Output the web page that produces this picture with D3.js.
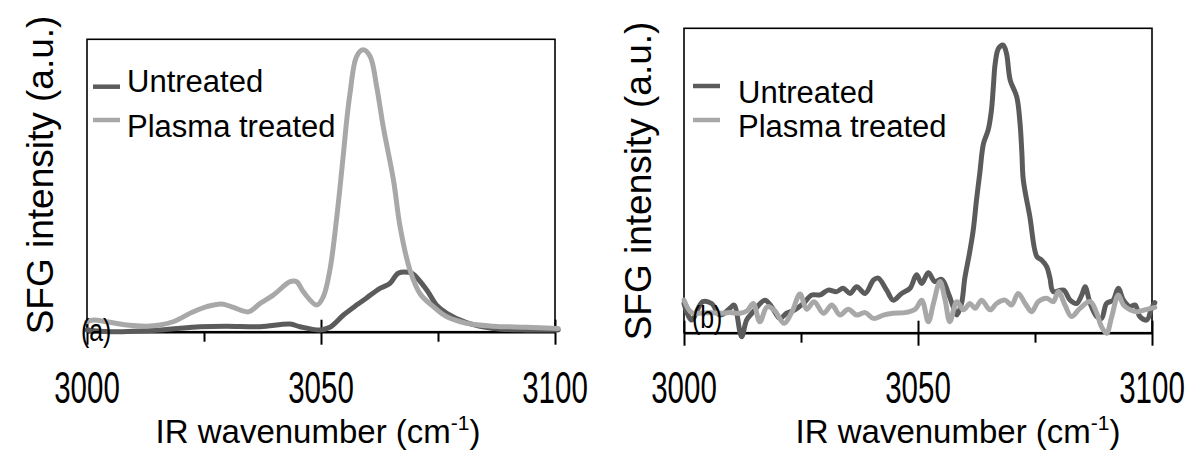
<!DOCTYPE html>
<html>
<head>
<meta charset="utf-8">
<script src="https://cdn.jsdelivr.net/npm/d3@7"></script>
<style>
  body { margin: 0; background: #fff; }
  text { font-family: 'Liberation Sans', Arial, sans-serif; fill: #000; }
</style>
</head>
<body>
<div id="chart"></div>
<script>
// series / tick data (intensity in a.u., 0-100 = axis to top of frame)
const seriesNames = ['Untreated', 'Plasma treated'];
const majorTicks = [3000, 3050, 3100];
const minorTicks = [3025, 3075];
const tickLabels = ['3000', '3050', '3100'];

// panel (a)
const aUntreatedWn = [3000.0, 3004.9, 3015.6, 3024.1, 3029.8, 3037.0, 3043.4, 3045.5, 3049.8, 3051.9, 3054.8, 3057.6, 3059.8, 3062.6, 3064.7, 3066.5, 3068.7, 3069.7, 3072.6, 3074.7, 3076.9, 3081.1, 3086.8, 3093.9, 3100.7];
const aUntreatedInt = [0.6, 0.0, 0.6, 1.7, 1.9, 1.7, 2.6, 1.7, 0.6, 1.5, 5.7, 9.1, 11.6, 14.8, 16.5, 20.0, 20.3, 19.7, 14.3, 9.1, 6.3, 3.1, 1.1, 0.6, 0.6];
const aPlasmaWn = [3000.0, 3001.4, 3004.2, 3008.5, 3012.7, 3015.6, 3018.4, 3022.7, 3025.6, 3028.8, 3031.3, 3034.5, 3037.0, 3039.8, 3043.4, 3044.8, 3046.2, 3049.1, 3050.5, 3051.9, 3053.3, 3054.8, 3055.5, 3056.2, 3057.6, 3059.0, 3060.5, 3061.9, 3063.3, 3065.5, 3066.9, 3069.0, 3071.2, 3074.0, 3076.9, 3081.1, 3086.8, 3093.9, 3100.7];
const aPlasmaInt = [3.4, 4.0, 3.4, 2.3, 1.9, 2.3, 3.4, 6.8, 8.6, 9.5, 8.3, 6.8, 9.7, 12.5, 17.1, 17.1, 13.7, 9.1, 12.0, 21.1, 38.2, 61.0, 72.4, 81.5, 94.1, 96.4, 94.1, 83.8, 70.1, 51.7, 35.9, 21.1, 12.9, 8.6, 5.1, 2.9, 1.9, 1.5, 1.1];

// panel (b)
const bUntreatedWn = [3000.0, 3001.6, 3004.0, 3005.9, 3007.7, 3009.8, 3010.7, 3012.3, 3013.4, 3014.8, 3017.3, 3018.7, 3020.5, 3021.9, 3023.7, 3025.5, 3027.3, 3029.1, 3030.8, 3032.6, 3034.0, 3035.5, 3036.9, 3038.7, 3040.5, 3041.5, 3043.3, 3044.7, 3046.5, 3048.3, 3049.7, 3050.8, 3052.2, 3053.6, 3055.1, 3056.5, 3057.5, 3058.3, 3059.3, 3060.0, 3061.0, 3061.8, 3062.5, 3063.2, 3064.0, 3065.0, 3065.7, 3066.1, 3066.5, 3067.2, 3068.2, 3068.9, 3069.7, 3071.1, 3071.8, 3072.2, 3072.5, 3073.9, 3075.4, 3076.4, 3077.5, 3078.2, 3078.9, 3081.1, 3082.5, 3083.9, 3085.0, 3085.7, 3086.8, 3088.2, 3089.2, 3090.3, 3091.7, 3092.8, 3093.9, 3095.3, 3096.4, 3097.4, 3098.9, 3099.9, 3100.6];
const bUntreatedInt = [9.6, 4.2, 10.2, 9.6, 5.8, 8.0, 9.1, -1.3, 4.2, 6.9, 10.7, 8.6, 4.7, 6.4, 7.5, 9.6, 12.4, 12.4, 14.0, 13.5, 14.6, 12.9, 15.1, 12.9, 17.3, 17.9, 14.0, 10.7, 12.9, 14.6, 19.0, 16.2, 19.7, 16.8, 17.5, 12.9, 8.6, 5.8, 9.6, 17.9, 26.1, 33.7, 43.6, 52.4, 62.2, 66.6, 73.2, 80.8, 88.5, 93.4, 94.5, 91.8, 83.0, 77.5, 68.8, 58.9, 50.2, 38.1, 25.0, 23.9, 21.7, 17.9, 13.5, 14.0, 10.7, 9.6, 12.4, 15.1, 9.6, 5.3, 4.7, 9.6, 10.7, 14.6, 10.7, 8.6, 9.1, 5.3, 4.2, 8.0, 9.9];
const bPlasmaWn = [3000.0, 3001.6, 3003.4, 3005.6, 3007.7, 3009.8, 3012.0, 3013.5, 3014.8, 3016.2, 3017.8, 3019.4, 3021.4, 3023.0, 3024.8, 3026.2, 3027.8, 3029.8, 3031.6, 3033.3, 3035.1, 3036.9, 3038.7, 3040.5, 3042.6, 3044.7, 3047.2, 3049.4, 3050.8, 3052.2, 3053.3, 3054.7, 3055.8, 3056.8, 3058.3, 3059.7, 3061.1, 3062.2, 3063.6, 3065.4, 3066.8, 3068.6, 3070.0, 3071.4, 3072.9, 3074.3, 3075.7, 3077.5, 3078.9, 3080.0, 3081.4, 3082.8, 3084.6, 3086.8, 3088.2, 3089.2, 3090.3, 3091.4, 3092.8, 3093.9, 3095.3, 3096.7, 3098.5, 3100.6];
const bPlasmaInt = [10.7, 6.6, 6.4, 6.6, 6.4, 6.6, 6.4, 7.2, 9.6, 3.6, 8.6, 7.2, 3.1, 6.6, 12.7, 7.7, 10.2, 6.4, 9.1, 5.8, 7.7, 5.8, 6.6, 4.7, 5.8, 6.4, 6.6, 7.7, 10.7, 3.6, 9.6, 16.8, 10.7, 3.6, 10.2, 7.5, 9.6, 8.0, 10.7, 7.5, 9.6, 10.7, 9.1, 12.9, 9.6, 6.9, 10.2, 11.3, 10.2, 13.5, 9.1, 5.3, 8.0, 10.2, 6.4, 2.0, -0.2, 5.3, 12.4, 9.1, 7.5, 6.9, 7.5, 8.3];

const W = 1192, H = 459;
const darkGrey = '#5b5b5b', lightGrey = '#a8a8a8';

const svg = d3.select('#chart').append('svg')
  .attr('width', W)
  .attr('height', H);

const panels = [
  {
    tag: '(a)', x0: 87, x1: 555, y0: 331.7, y1: 39.3,
    titleX: 318, yTitleX: 53, yTitleY: 175,
    tagX: 81, tagY: 341,
    lines: [[aUntreatedWn, aUntreatedInt, darkGrey], [aPlasmaWn, aPlasmaInt, lightGrey]],
    legLineX: 93, legTextX: 127, legLineY: [86.7, 120], legTextY: [91.7, 137]
  },
  {
    tag: '(b)', x0: 684, x1: 1152, y0: 332.7, y1: 28.3,
    titleX: 958, yTitleX: 651, yTitleY: 181,
    tagX: 692, tagY: 328,
    lines: [[bUntreatedWn, bUntreatedInt, darkGrey], [bPlasmaWn, bPlasmaInt, lightGrey]],
    legLineX: 693, legTextX: 738, legLineY: [86, 120], legTextY: [103, 137]
  }
];

panels.forEach(p => {
  const x = d3.scaleLinear().domain([3000, 3100]).range([p.x0, p.x1]);
  const y = d3.scaleLinear().domain([0, 100]).range([p.y0, p.y1]);
  const g = svg.append('g');

  // frame
  g.append('rect')
    .attr('x', p.x0).attr('y', p.y1)
    .attr('width', p.x1 - p.x0).attr('height', p.y0 - p.y1)
    .attr('fill', 'none').attr('stroke', '#000').attr('stroke-width', 1.6);

  // minor ticks
  g.append('g')
    .attr('transform', `translate(0,${p.y0})`)
    .call(d3.axisBottom(x).tickValues(minorTicks).tickSize(10).tickSizeOuter(0).tickFormat(''))
    .call(a => a.select('.domain').remove())
    .selectAll('line').attr('stroke', '#000').attr('stroke-width', 2);

  // major ticks, crossing the axis
  const major = g.append('g')
    .attr('transform', `translate(0,${p.y0})`)
    .call(d3.axisBottom(x).tickValues(majorTicks).tickSize(13).tickSizeOuter(0).tickFormat(''));
  major.select('.domain').attr('stroke', '#000').attr('stroke-width', 2.6);
  major.selectAll('.tick line').attr('y1', -12).attr('stroke', '#000').attr('stroke-width', 2);

  // tick labels (condensed digits)
  majorTicks.forEach((t, i) => {
    g.append('text')
      .attr('transform', `translate(${x(t)},403) scale(0.67,1)`)
      .attr('text-anchor', 'middle')
      .style('font-size', '44px')
      .text(tickLabels[i]);
  });

  // x title
  const title = g.append('text')
    .attr('transform', `translate(${p.titleX},443)`)
    .attr('text-anchor', 'middle')
    .style('font-size', '33px');
  title.append('tspan').text('IR wavenumber (cm');
  title.append('tspan').attr('dy', -13).style('font-size', '21px').text('-1');
  title.append('tspan').attr('dy', 13).text(')');

  // y title
  g.append('text')
    .attr('transform', `translate(${p.yTitleX},${p.yTitleY}) rotate(-90)`)
    .attr('text-anchor', 'middle')
    .style('font-size', '37px')
    .text('SFG intensity (a.u.)');

  // curves
  const line = d3.line()
    .x(d => x(d[0]))
    .y(d => y(d[1]))
    .curve(d3.curveCatmullRom.alpha(0.5));
  p.lines.forEach(([wn, val, color]) => {
    g.append('path')
      .datum(wn.map((w, i) => [w, val[i]]))
      .attr('d', line)
      .attr('fill', 'none')
      .attr('stroke', color)
      .attr('stroke-width', 5)
      .attr('stroke-linejoin', 'round')
      .attr('stroke-linecap', 'round');
  });

  // panel tag
  g.append('text')
    .attr('transform', `translate(${p.tagX},${p.tagY}) scale(0.8,1)`)
    .style('font-size', '31px')
    .text(p.tag);

  // legend
  seriesNames.forEach((name, i) => {
    g.append('line')
      .attr('x1', p.legLineX).attr('x2', p.legLineX + 27)
      .attr('y1', p.legLineY[i]).attr('y2', p.legLineY[i])
      .attr('stroke', p.lines[i][2]).attr('stroke-width', 4.5);
    g.append('text')
      .attr('x', p.legTextX).attr('y', p.legTextY[i])
      .style('font-size', '31px')
      .text(name);
  });
});
</script>
</body>
</html>
